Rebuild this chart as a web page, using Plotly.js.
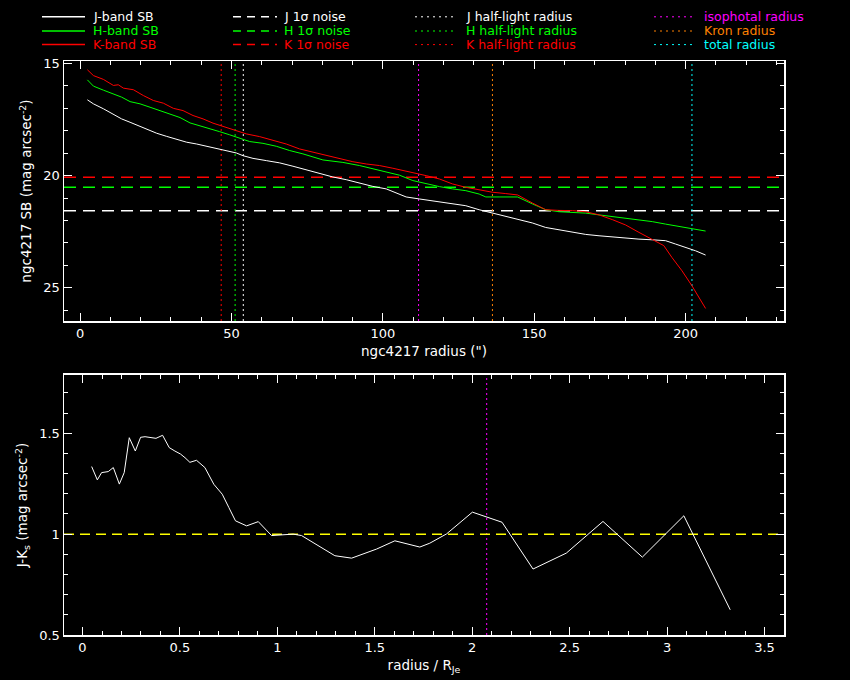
<!DOCTYPE html>
<html>
<head>
<meta charset="utf-8">
<script src="https://cdn.plot.ly/plotly-3.0.1.min.js"></script>
<style>html,body{margin:0;padding:0;background:#000;}#chart{width:850px;height:680px;}</style>
</head>
<body>
<div id="chart"></div>
<script>
// ---- Surface brightness profiles (radius in arcsec, SB in mag arcsec^-2) ----
const rJ = [2.4,4.4,7.7,11.0,13.7,16.5,19.8,22.0,25.3,28.6,31.9,35.2,38.5,41.8,45.1,48.3,51.6,53.8,57.1,61.5,65.9,70.3,74.7,79.1,83.5,87.9,92.3,96.7,101.1,103.3,107.7,112.1,116.4,120.9,127.4,131.8,136.2,140.6,145.0,149.4,153.8,158.2,162.6,167.0,171.4,175.8,180.2,184.6,189.0,193.4,196.7,200.0,203.3,206.6];
const sbJ = [16.62,16.80,17.02,17.25,17.47,17.62,17.81,17.95,18.11,18.25,18.39,18.51,18.59,18.69,18.81,18.91,18.99,19.11,19.23,19.33,19.43,19.58,19.75,19.92,20.06,20.18,20.33,20.48,20.59,20.71,20.95,21.04,21.13,21.21,21.34,21.52,21.67,21.82,21.96,22.11,22.31,22.41,22.53,22.62,22.68,22.74,22.80,22.83,22.86,22.90,23.05,23.20,23.35,23.54];
const rH = [2.4,4.4,7.7,11.0,13.7,16.5,19.8,23.1,26.4,29.7,33.0,36.3,39.6,42.8,46.1,49.4,52.7,56.0,60.4,64.8,69.2,73.6,80.2,86.8,92.3,96.7,101.1,105.5,109.9,114.3,118.7,123.0,127.4,131.8,134.0,138.4,144.5,149.4,153.8,158.2,162.6,167.0,171.4,175.8,180.2,184.6,189.0,193.4,197.8,202.1,206.6];
const sbH = [15.73,16.01,16.19,16.37,16.50,16.70,16.80,16.95,17.10,17.28,17.41,17.65,17.77,17.89,18.04,18.18,18.33,18.48,18.56,18.69,18.88,19.03,19.30,19.41,19.55,19.70,19.82,19.98,20.22,20.37,20.49,20.59,20.67,20.82,20.95,20.95,20.95,21.26,21.52,21.61,21.64,21.67,21.75,21.82,21.91,21.98,22.05,22.16,22.26,22.35,22.47];
const rK = [2.4,4.4,7.7,11.0,12.6,14.3,17.6,20.9,24.2,27.5,30.8,34.0,37.3,40.6,43.9,47.2,50.5,54.9,59.3,63.7,68.1,72.5,76.9,81.3,85.7,90.1,94.5,98.9,103.3,109.9,114.3,118.7,123.0,127.4,131.8,136.2,140.6,144.5,149.4,153.8,158.2,162.6,167.0,171.4,175.8,180.2,184.6,189.0,192.8,195.5,198.8,202.1,206.6];
const sbK = [15.28,15.54,15.71,15.98,15.95,16.10,16.17,16.43,16.65,16.77,17.00,17.10,17.32,17.47,17.66,17.80,17.92,18.14,18.26,18.41,18.59,18.81,18.96,19.11,19.25,19.38,19.48,19.55,19.67,19.85,20.00,20.15,20.37,20.52,20.64,20.74,20.80,20.86,21.22,21.52,21.55,21.56,21.61,21.75,21.96,22.20,22.53,22.86,23.12,23.65,24.24,24.91,25.92];

// ---- 1-sigma noise levels (J, H, K) ----
const noiseBands = ["J","H","K"];
const noiseLevels = [21.57, 20.52, 20.07];

// ---- characteristic radii (arcsec) ----
const radiusNames = ["J half-light radius","H half-light radius","K half-light radius","isophotal radius","Kron radius","total radius"];
const radiusValues = [53.9, 51.2, 46.6, 111.8, 136.2, 202.1];

// ---- J-Ks colour profile ----
const rNorm = [0.047,0.076,0.098,0.132,0.158,0.189,0.214,0.240,0.271,0.298,0.321,0.377,0.411,0.445,0.474,0.503,0.526,0.551,0.585,0.628,0.674,0.717,0.751,0.785,0.842,0.902,0.970,1.013,1.081,1.124,1.218,1.295,1.381,1.509,1.603,1.731,1.782,1.868,2.001,2.153,2.312,2.483,2.671,2.873,3.086,3.324];
const jkColour = [1.335,1.269,1.305,1.310,1.330,1.248,1.305,1.478,1.412,1.480,1.483,1.475,1.490,1.429,1.412,1.397,1.379,1.356,1.366,1.330,1.247,1.198,1.132,1.066,1.041,1.062,0.993,0.997,1.000,0.993,0.939,0.893,0.881,0.926,0.967,0.936,0.955,1.001,1.109,1.059,0.827,0.906,1.063,0.886,1.091,0.625];
const colourRef = [1.0];

// ---- styling ----
const W = 850, H = 680, mL = 64, mR = 66, mT = 61, mB = 45;
const pw = W - mL - mR, ph = H - mT - mB;
const px = x => (x - mL) / pw;
const py = y => (H - mB - y) / ph;
const FONT = "DejaVu Sans";
const bandColors = {J: "#ffffff", H: "#00ff00", K: "#ff0000"};
const radiusColors = ["#ffffff", "#00ff00", "#ff0000", "#ff00ff", "#ff8000", "#00ffff"];

const traces = [
  {x: rJ, y: sbJ, type: "scatter", mode: "lines", line: {color: bandColors.J, width: 1}, xaxis: "x", yaxis: "y", name: "J-band SB"},
  {x: rH, y: sbH, type: "scatter", mode: "lines", line: {color: bandColors.H, width: 1}, xaxis: "x", yaxis: "y", name: "H-band SB"},
  {x: rK, y: sbK, type: "scatter", mode: "lines", line: {color: bandColors.K, width: 1}, xaxis: "x", yaxis: "y", name: "K-band SB"},
  {x: rNorm, y: jkColour, type: "scatter", mode: "lines", line: {color: "#ffffff", width: 1}, xaxis: "x2", yaxis: "y2", name: "J-Ks"}
];

const shapes = [];
noiseLevels.forEach((v, i) => {
  shapes.push({type: "line", xref: "x domain", yref: "y", x0: 0, x1: 1, y0: v, y1: v,
    line: {color: bandColors[noiseBands[i]], width: 1.5, dash: "12px,7px"}, layer: "below"});
});
radiusValues.forEach((v, i) => {
  shapes.push({type: "line", xref: "x", yref: "y domain", x0: v, x1: v, y0: 0, y1: 1,
    line: {color: radiusColors[i], width: 1, dash: "2px,3px"}, layer: "below"});
});
// isophotal radius in units of J half-light radius on the colour panel
shapes.push({type: "line", xref: "x2", yref: "y2 domain", x0: radiusValues[3] / radiusValues[0], x1: radiusValues[3] / radiusValues[0], y0: 0, y1: 1,
  line: {color: "#ff00ff", width: 1, dash: "2px,3px"}, layer: "below"});
shapes.push({type: "line", xref: "x2 domain", yref: "y2", x0: 0, x1: 1, y0: colourRef[0], y1: colourRef[0],
  line: {color: "#ffff00", width: 1.5, dash: "10px,6px"}, layer: "below"});

// ---- legend (drawn as shapes + text) ----
const rowsY = [16.8, 31, 44.6];
const cols = [
  {x0: 42, x1: 85, tx: 91.7, dash: "solid", labels: ["J-band SB", "H-band SB", "K-band SB"], colors: [bandColors.J, bandColors.H, bandColors.K], w: 1.5},
  {x0: 233, x1: 277, tx: 282.7, dash: "8px,6px", labels: ["J 1σ noise", "H 1σ noise", "K 1σ noise"], colors: [bandColors.J, bandColors.H, bandColors.K], w: 1.5},
  {x0: 415, x1: 457, tx: 465, dash: "2px,4px", labels: radiusNames.slice(0, 3), colors: radiusColors.slice(0, 3), w: 1},
  {x0: 654, x1: 693, tx: 703, dash: "2px,4px", labels: radiusNames.slice(3), colors: radiusColors.slice(3), w: 1}
];
const annotations = [];
cols.forEach(c => {
  c.labels.forEach((lab, j) => {
    shapes.push({type: "line", xref: "paper", yref: "paper", x0: px(c.x0), x1: px(c.x1), y0: py(rowsY[j]), y1: py(rowsY[j]),
      line: {color: c.colors[j], width: c.w, dash: c.dash}});
    annotations.push({xref: "paper", yref: "paper", x: px(c.tx), y: py(rowsY[j]), xanchor: "left", yanchor: "middle",
      text: lab, showarrow: false, borderpad: 0, font: {family: FONT, size: 12.5, color: c.colors[j]}});
  });
});

const axisCommon = {
  showline: true, linecolor: "#ffffff", linewidth: 1.5, mirror: "allticks",
  ticks: "inside", ticklen: 8, tickwidth: 1, tickcolor: "#ffffff",
  showgrid: false, zeroline: false,
  tickfont: {family: FONT, size: 13, color: "#ffffff"}
};

const layout = {
  width: W, height: H,
  paper_bgcolor: "#000000", plot_bgcolor: "#000000",
  margin: {l: mL, r: mR, t: mT, b: mB},
  showlegend: false,
  font: {family: FONT, color: "#ffffff", size: 13.5},
  xaxis: Object.assign({}, axisCommon, {
    anchor: "y", range: [-5.32, 232.5], tick0: 0, dtick: 50,
    minor: {ticks: "inside", ticklen: 4, dtick: 10, tickcolor: "#ffffff"},
    title: {text: "ngc4217 radius (\")", font: {family: FONT, size: 13.5, color: "#ffffff"}, standoff: 6}
  }),
  yaxis: Object.assign({}, axisCommon, {
    anchor: "x", domain: [0.547, 1], range: [26.48, 14.89], tick0: 15, dtick: 5,
    minor: {ticks: "inside", ticklen: 4, dtick: 1, tickcolor: "#ffffff"},
    title: {text: "ngc4217 SB (mag arcsec<sup>-2</sup>)", font: {family: FONT, size: 13.5, color: "#ffffff"}, standoff: 8}
  }),
  xaxis2: Object.assign({}, axisCommon, {
    anchor: "y2", range: [-0.095, 3.6], tick0: 0, dtick: 0.5,
    minor: {ticks: "inside", ticklen: 4, dtick: 0.1, tickcolor: "#ffffff"},
    title: {text: "radius / R<sub>Je</sub>", font: {family: FONT, size: 13.5, color: "#ffffff"}, standoff: 6}
  }),
  yaxis2: Object.assign({}, axisCommon, {
    anchor: "x2", domain: [0, 0.453], range: [0.5, 1.789], tick0: 0.5, dtick: 0.5,
    minor: {ticks: "inside", ticklen: 4, dtick: 0.1, tickcolor: "#ffffff"},
    title: {text: "J-K<sub>s</sub> (mag arcsec<sup>-2</sup>)", font: {family: FONT, size: 13.5, color: "#ffffff"}, standoff: 8}
  }),
  shapes: shapes,
  annotations: annotations
};

Plotly.newPlot("chart", traces, layout, {displayModeBar: false, staticPlot: true});
</script>
</body>
</html>
